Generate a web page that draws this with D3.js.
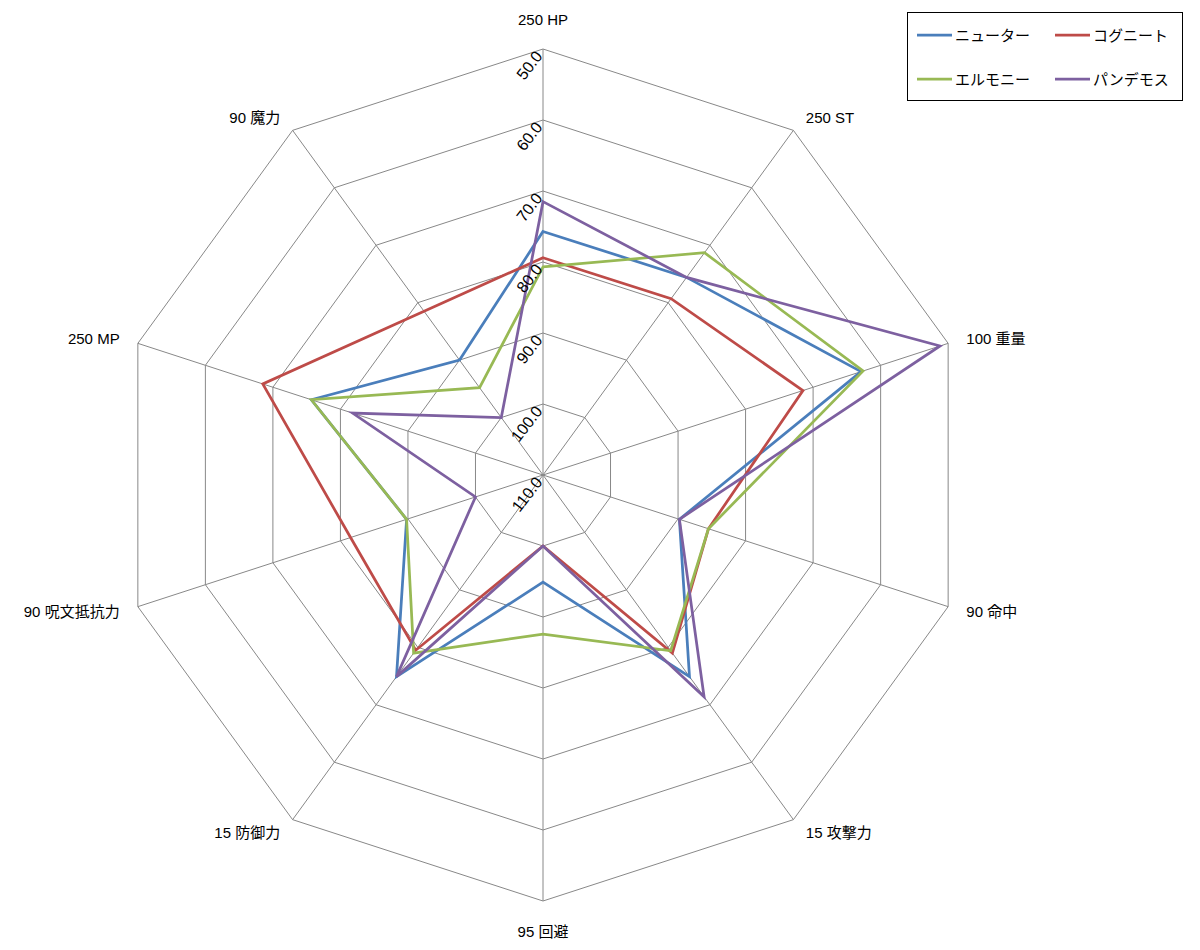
<!DOCTYPE html>
<html><head><meta charset="utf-8">
<script src="https://cdn.jsdelivr.net/npm/d3@7"></script>
<style>
body{margin:0;background:#fff;}
text{font-family:"Liberation Sans","Noto Sans CJK JP",sans-serif;fill:#000;}
</style>
</head><body><svg id="c" width="1200" height="950"></svg>
<script>
const categories = ["250 HP","250 ST","100 重量","90 命中","15 攻撃力","95 回避","15 防御力","90 呪文抵抗力","250 MP","90 魔力"];
const seriesNames = ["ニューター","コグニート","エルモニー","パンデモス"];
const neuter   = [75.7, 75.6, 62.9, 89.8, 74.9, 94.9, 74.9, 89.8, 75.7, 90.0];
const cognite  = [79.4, 79.3, 71.5, 85.5, 79.0, 100.0, 79.5, 81.5, 68.5, 81.5];
const elmony   = [80.7, 71.3, 62.6, 85.5, 79.4, 87.6, 79.0, 89.8, 75.7, 94.8];
const pandemos = [71.5, 75.6, 51.2, 89.8, 71.4, 100.0, 74.9, 100.0, 81.8, 100.0];
const ticks = [50, 60, 70, 80, 90, 100, 110];
const colors = ["#4A7EBB", "#BE4B48", "#98B954", "#7D60A0"];

const series = [neuter, cognite, elmony, pandemos];
const cx = 543, cy = 475, R = 426;
const svg = d3.select("#c");
const g = svg.append("g").attr("transform", `translate(${cx},${cy})`);

const r = d3.scaleLinear().domain([110, 50]).range([0, R]);
const angle = d3.scaleLinear().domain([0, categories.length]).range([0, 2 * Math.PI]);

// grid rings
const ring = d3.lineRadial().angle((d, i) => angle(i)).radius(d => r(d)).curve(d3.curveLinearClosed);
ticks.filter(t => t !== 110).forEach(t => {
  g.append("path").attr("d", ring(categories.map(() => t)))
    .attr("fill", "none").attr("stroke", "#888888").attr("stroke-width", 1);
});
// spokes
categories.forEach((c, i) => {
  const a = angle(i);
  g.append("line").attr("x1", 0).attr("y1", 0)
    .attr("x2", r(50) * Math.sin(a)).attr("y2", -r(50) * Math.cos(a))
    .attr("stroke", "#888888").attr("stroke-width", 1);
});

// series
series.forEach((s, k) => {
  g.append("path").attr("d", ring(s))
    .attr("fill", "none").attr("stroke", colors[k]).attr("stroke-width", 2.75)
    .attr("stroke-linejoin", "miter");
});

// tick labels along HP axis
ticks.forEach(t => {
  g.append("text")
    .attr("transform", `translate(-4,${-r(t) + 4}) rotate(-52)`)
    .attr("text-anchor", "end").attr("dominant-baseline", "central")
    .style("font-size", "16px")
    .text(t.toFixed(1));
});

// category labels
categories.forEach((c, i) => {
  const a = angle(i);
  const sx = Math.sin(a), sy = -Math.cos(a);
  let x, y, anchor;
  if (Math.abs(sx) < 0.01) {
    x = 0; y = sy * (R + 30); anchor = "middle";
  } else {
    x = sx * (R + 16) + (sx > 0 ? 3 : -3);
    y = sy * (R + 16);
    anchor = sx > 0 ? "start" : "end";
  }
  g.append("text").attr("x", x).attr("y", y)
    .attr("text-anchor", anchor).attr("dominant-baseline", "central")
    .style("font-size", "15px").text(c);
});

// legend
const lg = svg.append("g");
lg.append("rect").attr("x", 907.5).attr("y", 12.5).attr("width", 275).attr("height", 88)
  .attr("fill", "#fff").attr("stroke", "#000").attr("stroke-width", 1);
seriesNames.forEach((n, k) => {
  const col = k % 2, row = Math.floor(k / 2);
  const x0 = 917 + col * 138, y0 = 35 + row * 44;
  lg.append("line").attr("x1", x0).attr("x2", x0 + 35).attr("y1", y0).attr("y2", y0)
    .attr("stroke", colors[k]).attr("stroke-width", 2.75);
  lg.append("text").attr("x", x0 + 38).attr("y", y0).attr("dominant-baseline", "central")
    .style("font-size", "15px").text(n);
});
</script></body></html>
